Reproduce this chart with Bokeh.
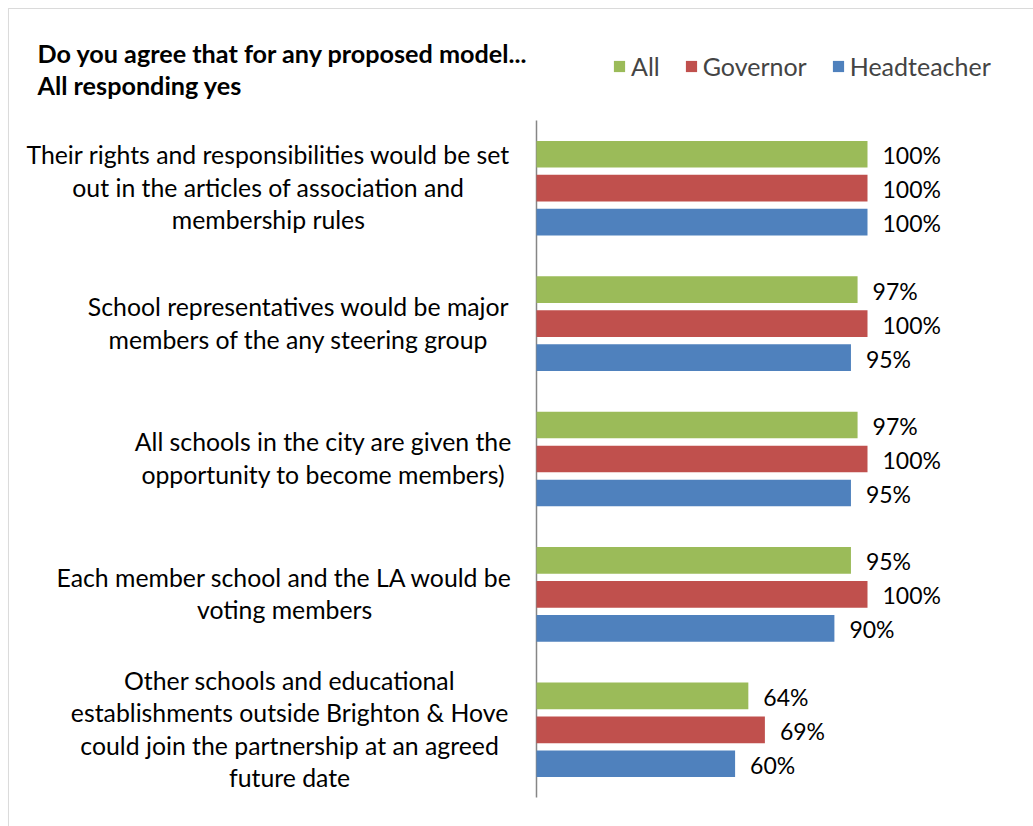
from bokeh.plotting import figure
from bokeh.models import (ColumnDataSource, Range1d, LabelSet, Label, Legend,
                          LegendItem, BoxAnnotation)
from bokeh.core.properties import value
from bokeh.embed import file_html
from bokeh.resources import INLINE

# ---------------- data ----------------
categories = [
    "Their rights and responsibilities would be set\nout in the articles of association and\nmembership rules",
    "School representatives would be major\nmembers of the any steering group",
    "All schools in the city are given the\nopportunity to become members)",
    "Each member school and the LA would be\nvoting members",
    "Other schools and educational\nestablishments outside Brighton & Hove\ncould join the partnership at an agreed\nfuture date",
]
series_names = ["All", "Governor", "Headteacher"]
all_vals = [100, 97, 97, 95, 64]
governor_vals = [100, 100, 100, 100, 69]
headteacher_vals = [100, 95, 95, 90, 60]

title_line1 = "Do you agree that for any proposed model..."
title_line2 = "All responding yes"

# ---------------- styles / layout ----------------
colors = ["#9BBB59", "#C0504D", "#4F81BD"]
offsets = [0.251, 0.0, -0.251]
bar_h = 0.197
FONT = "Lato"
label_centers = [-81.0, -71.9, -64.4, -76.1, -74.6]  # horizontal centres of category label blocks
line_step = 0.24      # vertical distance between wrapped label lines (data units)
line_shift = 0.006

W, H = 1033, 826
# frame covers the whole canvas; ranges chosen so the value axis starts at x=536px
p = figure(width=W, height=H, output_backend="svg", toolbar_location=None,
           x_range=Range1d(-161.93, 150.15), y_range=Range1d(-0.2142, 5.8863),
           x_axis_location=None, y_axis_location=None,
           min_border=0)
p.background_fill_color = "white"
p.border_fill_color = "white"
p.outline_line_color = None
p.xgrid.visible = False
p.ygrid.visible = False

n = len(categories)
yc = [n - 0.5 - i for i in range(n)]

# category axis line
p.segment(x0=[0], y0=[0], x1=[0], y1=[n], line_color="#868686", line_width=1.5)

renderers = []
for name, vals, col, off in zip(series_names, [all_vals, governor_vals, headteacher_vals], colors, offsets):
    src = ColumnDataSource(dict(
        y=[v + off for v in yc],
        val=vals,
        lbl=[f"{v}%" for v in vals],
    ))
    r = p.hbar(y="y", right="val", left=0, height=bar_h, source=src,
               fill_color=col, line_color=None)
    renderers.append((name, r))
    p.add_layout(LabelSet(x="val", y="y", text="lbl", source=src, x_offset=15, y_offset=-1,
                          text_baseline="middle", text_align="left",
                          text_font=value(FONT), text_font_size="23px", text_color="black"))

# category labels, each wrapped line centred under the block centre
lx, ly, lt = [], [], []
for cat, cx, y0 in zip(categories, label_centers, yc):
    lines = cat.split("\n")
    m = len(lines)
    for k, line in enumerate(lines):
        lx.append(cx)
        ly.append(y0 + line_shift + ((m - 1) / 2 - k) * line_step)
        lt.append(line)
cat_src = ColumnDataSource(dict(x=lx, y=ly, text=lt))
p.add_layout(LabelSet(x="x", y="y", text="text", source=cat_src,
                      text_align="center", text_baseline="middle",
                      text_font=value(FONT), text_font_size="24.8px",
                      text_color="black"))

# title
for txt, yy in [(title_line1, 5.4985), (title_line2, 5.2655)]:
    p.add_layout(Label(x=-150.76, y=yy, text=txt, text_font=FONT,
                       text_font_size="25.2px", text_font_style="bold",
                       text_baseline="middle", text_color="black"))

# legend
legend = Legend(items=[LegendItem(label=nm, renderers=[r]) for nm, r in renderers],
                orientation="horizontal", location=(612, 745),
                glyph_width=14, glyph_height=14, label_standoff=5, spacing=24,
                padding=0, margin=0, border_line_color=None,
                background_fill_alpha=0,
                label_text_font=FONT, label_text_font_size="25px")
p.add_layout(legend)

# outer chart border
p.add_layout(BoxAnnotation(left=-159.52, right=200, top=5.8272, bottom=-1,
                           fill_alpha=0, line_color="#868686", line_width=1))

open("out.html", "w").write(file_html(p, INLINE))
